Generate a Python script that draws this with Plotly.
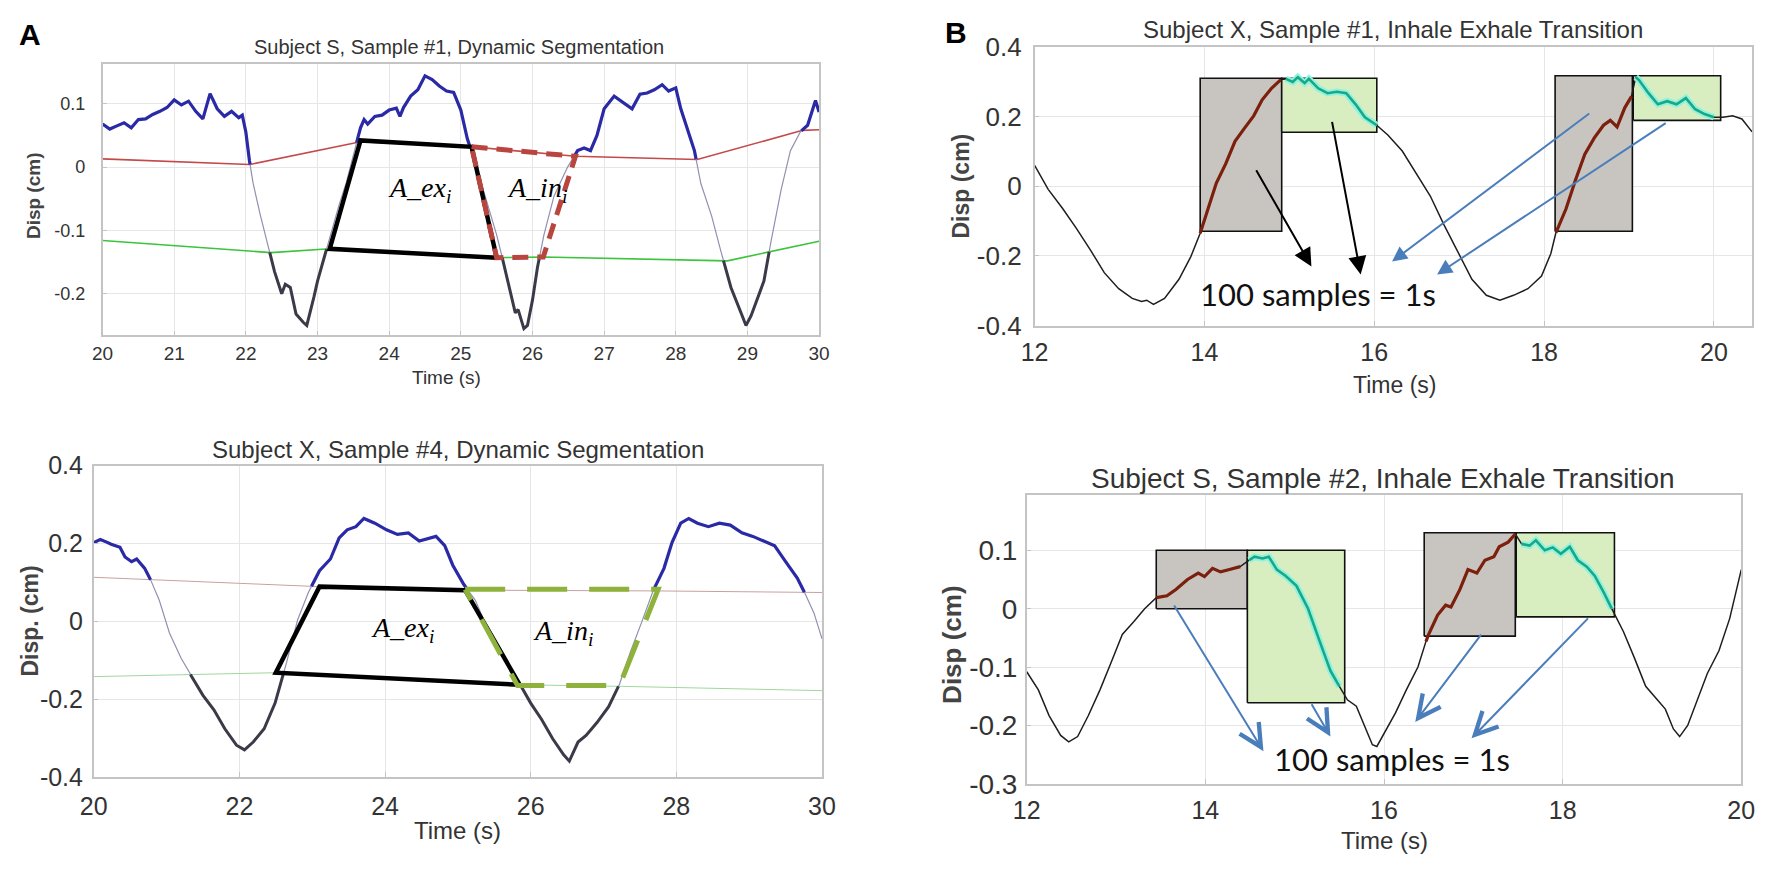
import numpy as np
import plotly.graph_objects as go

# ------------------------------------------------------------------ data
# Panel A (top): Subject S, Sample #1
a1_t = [20.0, 20.1, 20.2, 20.3, 20.4, 20.5, 20.6, 20.7, 20.8, 20.9, 21.0, 21.1, 21.2, 21.3,
        21.4, 21.5, 21.6, 21.7, 21.8, 21.9, 21.95, 22.0, 22.05, 22.1, 22.2, 22.3, 22.4, 22.5,
        22.55, 22.62, 22.7, 22.8, 22.85, 22.95, 23.0, 23.1, 23.2, 23.3, 23.4, 23.5, 23.6, 23.65,
        23.7, 23.8, 23.9, 24.0, 24.1, 24.15, 24.2, 24.3, 24.4, 24.5, 24.6, 24.7, 24.8, 24.9,
        25.0, 25.09, 25.19, 25.35, 25.5, 25.6, 25.7, 25.76, 25.8, 25.88, 25.93, 26.0, 26.07,
        26.16, 26.3, 26.49, 26.63, 26.72, 26.81, 26.9, 27.0, 27.14, 27.28, 27.39, 27.5, 27.6,
        27.7, 27.81, 27.9, 28.0, 28.07, 28.16, 28.26, 28.35, 28.5, 28.63, 28.77, 28.91, 28.98,
        29.05, 29.15, 29.23, 29.33, 29.47, 29.6, 29.74, 29.84, 29.95, 30.0]
a1_y = [0.068, 0.060, 0.065, 0.070, 0.062, 0.075, 0.076, 0.083, 0.088, 0.094, 0.106, 0.098,
        0.104, 0.088, 0.076, 0.116, 0.092, 0.080, 0.088, 0.078, 0.082, 0.055, 0.010, -0.025,
        -0.075, -0.120, -0.165, -0.200, -0.185, -0.190, -0.232, -0.245, -0.250, -0.205, -0.180,
        -0.140, -0.100, -0.060, -0.025, 0.020, 0.062, 0.075, 0.068, 0.080, 0.082, 0.090, 0.093,
        0.080, 0.094, 0.112, 0.122, 0.144, 0.138, 0.128, 0.120, 0.118, 0.090, 0.045, 0.010,
        -0.050, -0.107, -0.153, -0.200, -0.230, -0.225, -0.255, -0.250, -0.210, -0.158, -0.107,
        -0.046, 0.000, 0.026, 0.030, 0.026, 0.050, 0.092, 0.112, 0.100, 0.092, 0.115, 0.117,
        0.122, 0.130, 0.120, 0.125, 0.092, 0.061, 0.026, -0.026, -0.077, -0.133, -0.190,
        -0.230, -0.250, -0.235, -0.204, -0.180, -0.117, -0.036, 0.026, 0.056, 0.066, 0.105,
        0.087]
a1_red_t = [20.0, 22.05, 23.6, 25.15, 26.6, 28.3, 29.77, 30.0]
a1_red_y = [0.013, 0.004, 0.040, 0.032, 0.017, 0.012, 0.058, 0.059]
a1_green_t = [20.0, 22.35, 23.17, 25.5, 26.15, 28.72, 30.0]
a1_green_y = [-0.116, -0.135, -0.129, -0.143, -0.142, -0.148, -0.117]
a1_ex_t = [25.5, 23.17, 23.6, 25.15, 25.5]
a1_ex_y = [-0.143, -0.129, 0.042, 0.032, -0.143]
a1_in_t = [25.15, 26.6, 26.15, 25.5, 25.15]
a1_in_y = [0.032, 0.017, -0.142, -0.143, 0.032]
a1_xticks = [20, 21, 22, 23, 24, 25, 26, 27, 28, 29, 30]
a1_yticks = [-0.2, -0.1, 0, 0.1]
a1_yticklabels = ["-0.2", "-0.1", "0", "0.1"]

# Panel A (bottom): Subject X, Sample #4
a2_t = [20.0, 20.09, 20.17, 20.24, 20.36, 20.43, 20.52, 20.59, 20.7, 20.78, 20.9, 21.04,
        21.2, 21.35, 21.5, 21.65, 21.8, 21.96, 22.07, 22.19, 22.34, 22.49, 22.64, 22.8, 22.95,
        23.1, 23.25, 23.37, 23.48, 23.6, 23.71, 23.86, 24.02, 24.17, 24.32, 24.47, 24.7, 24.82,
        24.93, 25.08, 25.24, 25.39, 25.54, 25.69, 25.85, 26.0, 26.15, 26.3, 26.45, 26.53,
        26.65, 26.76, 26.91, 27.07, 27.22, 27.37, 27.52, 27.68, 27.83, 27.94, 28.06, 28.17,
        28.29, 28.44, 28.59, 28.74, 28.9, 29.05, 29.2, 29.35, 29.5, 29.66, 29.77, 29.89, 30.0]
a2_y = [0.202, 0.210, 0.204, 0.198, 0.190, 0.165, 0.153, 0.160, 0.136, 0.107, 0.054, -0.030,
        -0.095, -0.144, -0.190, -0.227, -0.276, -0.318, -0.330, -0.310, -0.276, -0.210, -0.111,
        0.004, 0.075, 0.130, 0.160, 0.214, 0.235, 0.243, 0.264, 0.252, 0.235, 0.223, 0.227,
        0.206, 0.218, 0.194, 0.144, 0.095, 0.054, -0.012, -0.062, -0.111, -0.161, -0.210,
        -0.252, -0.301, -0.342, -0.359, -0.310, -0.293, -0.260, -0.219, -0.161, -0.078, -0.004,
        0.078, 0.136, 0.202, 0.252, 0.264, 0.252, 0.243, 0.252, 0.247, 0.227, 0.218, 0.206,
        0.194, 0.153, 0.111, 0.070, 0.021, -0.045]
a2_red_t = [20.0, 23.1, 25.1, 27.75, 30.0]
a2_red_y = [0.113, 0.089, 0.080, 0.078, 0.074]
a2_green_t = [20.0, 22.5, 25.85, 27.25, 30.0]
a2_green_y = [-0.142, -0.132, -0.163, -0.167, -0.178]
a2_ex_t = [25.85, 22.5, 23.1, 25.1, 25.85]
a2_ex_y = [-0.163, -0.132, 0.089, 0.080, -0.163]
a2_in_t = [25.1, 27.75, 27.22, 25.82, 25.1]
a2_in_y = [0.082, 0.082, -0.165, -0.165, 0.082]
a2_xticks = [20, 22, 24, 26, 28, 30]
a2_yticks = [-0.4, -0.2, 0, 0.2, 0.4]
a2_yticklabels = ["-0.4", "-0.2", "0", "0.2", "0.4"]

# Panel B (top): Subject X, Sample #1
b1_t = [12.0, 12.16, 12.33, 12.49, 12.66, 12.82, 12.99, 13.15, 13.26, 13.32, 13.4, 13.53,
        13.7, 13.84, 13.95, 14.03, 14.14, 14.25, 14.36, 14.47, 14.58, 14.68, 14.79, 14.9,
        14.96, 15.04, 15.1, 15.18, 15.23, 15.34, 15.45, 15.56, 15.67, 15.78, 15.89, 16.03,
        16.16, 16.33, 16.49, 16.66, 16.82, 16.99, 17.15, 17.32, 17.48, 17.64, 17.81, 17.97,
        18.08, 18.14, 18.26, 18.37, 18.48, 18.59, 18.7, 18.78, 18.86, 18.95, 19.03, 19.08,
        19.12, 19.23, 19.34, 19.45, 19.56, 19.67, 19.78, 19.89, 20.0, 20.11, 20.22, 20.33, 20.45]
b1_y = [0.060, -0.009, -0.064, -0.120, -0.184, -0.248, -0.294, -0.322, -0.331, -0.327, -0.339,
        -0.322, -0.267, -0.202, -0.135, -0.074, 0.009, 0.064, 0.129, 0.166, 0.202, 0.248, 0.281,
        0.306, 0.308, 0.299, 0.313, 0.296, 0.308, 0.281, 0.267, 0.271, 0.267, 0.235, 0.198,
        0.175, 0.147, 0.101, 0.037, -0.028, -0.110, -0.193, -0.267, -0.313, -0.327, -0.313,
        -0.294, -0.258, -0.193, -0.133, -0.064, 0.018, 0.092, 0.138, 0.175, 0.189, 0.170, 0.225,
        0.258, 0.313, 0.304, 0.267, 0.235, 0.244, 0.235, 0.253, 0.221, 0.207, 0.198, 0.198,
        0.202, 0.193, 0.156]
b1_gray_x0 = [13.95, 18.13]
b1_gray_x1 = [14.91, 19.04]
b1_gray_y0 = [-0.129, -0.129]
b1_gray_y1 = [0.310, 0.317]
b1_green_x0 = [14.91, 19.05]
b1_green_x1 = [16.03, 20.08]
b1_green_y0 = [0.155, 0.189]
b1_green_y1 = [0.310, 0.317]
b1_arrow_tail_t = [14.60, 15.50, 18.55, 19.45]
b1_arrow_tail_y = [0.050, 0.189, 0.212, 0.184]
b1_arrow_head_t = [15.26, 15.84, 16.21, 16.74]
b1_arrow_head_y = [-0.230, -0.253, -0.216, -0.253]
b1_arrow_kind = ["black", "black", "blue", "blue"]
b1_note = (15.34, -0.308)
b1_xticks = [12, 14, 16, 18, 20]
b1_yticks = [-0.4, -0.2, 0, 0.2, 0.4]
b1_yticklabels = ["-0.4", "-0.2", "0", "0.2", "0.4"]

# Panel B (bottom): Subject S, Sample #2
b2_t = [12.0, 12.13, 12.25, 12.38, 12.47, 12.57, 12.69, 12.82, 12.94, 13.07, 13.2, 13.32,
        13.45, 13.54, 13.57, 13.67, 13.8, 13.92, 13.99, 14.08, 14.17, 14.27, 14.39, 14.49,
        14.55, 14.64, 14.71, 14.8, 14.9, 15.02, 15.15, 15.28, 15.4, 15.5, 15.59, 15.69, 15.78,
        15.87, 15.92, 16.0, 16.13, 16.25, 16.38, 16.47, 16.5, 16.6, 16.69, 16.75, 16.85, 16.94,
        17.04, 17.13, 17.23, 17.29, 17.39, 17.47, 17.54, 17.63, 17.7, 17.8, 17.89, 17.98, 18.08,
        18.17, 18.27, 18.36, 18.46, 18.55, 18.68, 18.8, 18.93, 19.06, 19.15, 19.24, 19.31, 19.4,
        19.5, 19.62, 19.75, 19.87, 20.0]
b2_y = [-0.108, -0.139, -0.183, -0.217, -0.228, -0.219, -0.183, -0.139, -0.094, -0.044,
        -0.022, 0.000, 0.019, 0.022, 0.022, 0.033, 0.050, 0.061, 0.055, 0.069, 0.063, 0.067,
        0.072, 0.083, 0.089, 0.086, 0.089, 0.067, 0.056, 0.039, 0.000, -0.056, -0.106, -0.133,
        -0.156, -0.167, -0.200, -0.233, -0.236, -0.214, -0.178, -0.139, -0.100, -0.056, -0.044,
        -0.011, 0.006, 0.003, 0.033, 0.067, 0.061, 0.083, 0.089, 0.106, 0.114, 0.128, 0.111,
        0.108, 0.117, 0.100, 0.105, 0.094, 0.106, 0.083, 0.072, 0.056, 0.028, 0.000, -0.039,
        -0.083, -0.133, -0.156, -0.172, -0.206, -0.219, -0.200, -0.161, -0.111, -0.072, -0.017,
        0.067]
b2_gray_x0 = [13.45, 16.45]
b2_gray_x1 = [14.47, 17.47]
b2_gray_y0 = [0.000, -0.047]
b2_gray_y1 = [0.100, 0.130]
b2_green_x0 = [14.47, 17.48]
b2_green_x1 = [15.56, 18.58]
b2_green_y0 = [-0.161, -0.014]
b2_green_y1 = [0.100, 0.130]
b2_arrow_tail_t = [13.64, 15.18, 17.10, 18.30]
b2_arrow_tail_y = [0.008, -0.161, -0.042, -0.014]
b2_arrow_head_t = [14.65, 15.40, 16.35, 16.98]
b2_arrow_head_y = [-0.244, -0.219, -0.194, -0.222]
b2_note = (16.09, -0.258)
b2_xticks = [12, 14, 16, 18, 20]
b2_yticks = [-0.3, -0.2, -0.1, 0, 0.1]
b2_yticklabels = ["-0.3", "-0.2", "-0.1", "0", "0.1"]

# ------------------------------------------------------------------ helpers
W, H = 1772, 878
def PX(x):
    return x / W
def PY(y):
    return 1 - y / H

def thick_runs(t, y, thr_t, thr_y, above):
    t = np.asarray(t, float); y = np.asarray(y, float)
    thr = np.interp(t, thr_t, thr_y)
    d = (y - thr) if above else (thr - y)
    mask = d > 0
    xs, ys = [], []
    n = len(t); i = 0
    while i < n:
        if mask[i]:
            j = i
            while j + 1 < n and mask[j + 1]:
                j += 1
            sx, sy = [], []
            if i > 0:
                f = d[i - 1] / (d[i - 1] - d[i])
                sx.append(t[i - 1] + f * (t[i] - t[i - 1])); sy.append(y[i - 1] + f * (y[i] - y[i - 1]))
            sx += list(t[i:j + 1]); sy += list(y[i:j + 1])
            if j + 1 < n:
                f = d[j] / (d[j] - d[j + 1])
                sx.append(t[j] + f * (t[j + 1] - t[j])); sy.append(y[j] + f * (y[j + 1] - y[j]))
            xs += sx + [None]; ys += sy + [None]
            i = j + 1
        else:
            i += 1
    return xs, ys

def window(t, y, x0s, x1s):
    xs, ys = [], []
    for a, b in zip(x0s, x1s):
        for tt, yy in zip(t, y):
            if a - 1e-9 <= tt <= b + 1e-9:
                xs.append(tt); ys.append(yy)
        xs.append(None); ys.append(None)
    return xs, ys

def boxes(x0s, x1s, y0s, y1s):
    xs, ys = [], []
    for a, b, c, d in zip(x0s, x1s, y0s, y1s):
        xs += [a, b, b, a, a, None]; ys += [c, c, d, d, c, None]
    return xs, ys

fig = go.Figure()
TICKFONT = "Liberation Sans, Arial, sans-serif"

def line(xa, ya, x, y, color, width, dash="solid", **kw):
    fig.add_trace(go.Scatter(x=x, y=y, xaxis=xa, yaxis=ya, mode="lines",
                             line=dict(color=color, width=width, dash=dash),
                             hoverinfo="skip", showlegend=False, **kw))

# ------------------------------------------------------------------ panel A
for (xa, ya, t, y, rt, ry, gt, gy, ext, exy, int_, iny, envw, redc, grnc, dashc, dashp) in [
    ("x", "y", a1_t, a1_y, a1_red_t, a1_red_y, a1_green_t, a1_green_y,
     a1_ex_t, a1_ex_y, a1_in_t, a1_in_y, 1.6, "#c44a4a", "#3cc43c", "#b8463e", "16px,9px"),
    ("x2", "y2", a2_t, a2_y, a2_red_t, a2_red_y, a2_green_t, a2_green_y,
     a2_ex_t, a2_ex_y, a2_in_t, a2_in_y, 1.0, "#c9a0a0", "#9ed89e", "#8fb23c", "40px,22px")]:
    line(xa, ya, rt, ry, redc, envw)
    line(xa, ya, gt, gy, grnc, envw)
    line(xa, ya, t, y, "#9090b0", 1.2)
    bx, by = thick_runs(t, y, rt, ry, True)
    line(xa, ya, bx, by, "#2a2aa6", 3.2)
    kx, ky = thick_runs(t, y, gt, gy, False)
    line(xa, ya, kx, ky, "#3a3a48", 3.0)
    line(xa, ya, ext, exy, "#000000", 4.5)
    line(xa, ya, int_, iny, dashc, 5, dash=dashp)

# ------------------------------------------------------------------ panel B
for (xa, ya, t, y, gx0, gx1, gy0, gy1, nx0, nx1, ny0, ny1) in [
    ("x3", "y3", b1_t, b1_y, b1_gray_x0, b1_gray_x1, b1_gray_y0, b1_gray_y1,
     b1_green_x0, b1_green_x1, b1_green_y0, b1_green_y1),
    ("x4", "y4", b2_t, b2_y, b2_gray_x0, b2_gray_x1, b2_gray_y0, b2_gray_y1,
     b2_green_x0, b2_green_x1, b2_green_y0, b2_green_y1)]:
    sx, sy = boxes(gx0, gx1, gy0, gy1)
    fig.add_trace(go.Scatter(x=sx, y=sy, xaxis=xa, yaxis=ya, mode="lines", fill="toself",
                             fillcolor="#c8c5c0", line=dict(color="#111111", width=1.6),
                             hoverinfo="skip", showlegend=False))
    sx, sy = boxes(nx0, nx1, ny0, ny1)
    fig.add_trace(go.Scatter(x=sx, y=sy, xaxis=xa, yaxis=ya, mode="lines", fill="toself",
                             fillcolor="#d8edc0", line=dict(color="#111111", width=1.6),
                             hoverinfo="skip", showlegend=False))
    line(xa, ya, t, y, "#1e1e1e", 1.5)
    rx, ry_ = window(t, y, gx0, gx1)
    line(xa, ya, rx, ry_, "#7c1f0c", 3.2)
    cx, cy = window(t, y, nx0, nx1)
    line(xa, ya, cx, cy, "#8ff2e2", 6.5)
    line(xa, ya, cx, cy, "#1aa882", 2.6)

# ------------------------------------------------------------------ axes
def axis(domain, rng, tickvals, ticktext=None, size=18, standoff=8, anchor=None):
    d = dict(domain=domain, range=rng, tickmode="array", tickvals=tickvals,
             showgrid=True, gridcolor="#e6e6e6", gridwidth=1, zeroline=False,
             showline=True, linecolor="#c4c4c4", linewidth=1.5, mirror=True,
             ticks="inside", ticklen=5, tickcolor="#c4c4c4",
             tickfont=dict(family=TICKFONT, size=size, color="#333333"),
             ticklabelstandoff=standoff, anchor=anchor, fixedrange=True)
    if ticktext is not None:
        d["ticktext"] = ticktext
    return d

layout = dict(
    width=W, height=H, margin=dict(l=0, r=0, t=0, b=0),
    paper_bgcolor="white", plot_bgcolor="white", showlegend=False,
    xaxis=axis([PX(90), PX(818)], [20, 30], a1_xticks, size=19, standoff=0, anchor="y"),
    yaxis=axis([PY(332), PY(51)], [-0.2655, 0.1624], a1_yticks, a1_yticklabels, size=18, standoff=12, anchor="x"),
    xaxis2=axis([PX(81), PX(821)], [20, 30], a2_xticks, size=25, standoff=6, anchor="y2"),
    yaxis2=axis([PY(790), PY(467)], [-0.4, 0.4], a2_yticks, a2_yticklabels, size=25, standoff=4, anchor="x2"),
    xaxis3=axis([PX(1037), PX(1766)], [12, 20.45], b1_xticks, size=25, standoff=4, anchor="y3"),
    yaxis3=axis([PY(322), PY(33)], [-0.4, 0.4], b1_yticks, b1_yticklabels, size=26, standoff=6, anchor="x3"),
    xaxis4=axis([PX(1029), PX(1755)], [12, 20], b2_xticks, size=25, standoff=3, anchor="y4"),
    yaxis4=axis([PY(797), PY(498)], [-0.3, 0.194], b2_yticks, b2_yticklabels, size=28, standoff=2, anchor="x4"),
)
fig.update_layout(**layout)

ann = []
def txt(x, y, s, size, color="#333333", family=TICKFONT, angle=0, bold=False):
    ann.append(dict(x=PX(x), y=PY(y), xref="paper", yref="paper", text=("<b>%s</b>" % s) if bold else s,
                    showarrow=False, xanchor="center", yanchor="middle", textangle=angle,
                    font=dict(family=family, size=size, color=color)))

# titles & axis labels
txt(452, 33, "Subject S, Sample #1, Dynamic Segmentation", 20)
txt(439, 376, "Time (s)", 19)
txt(20, 187, "Disp (cm)", 19, color="#444444", angle=-90, bold=True)
txt(451, 450, "Subject X, Sample #4, Dynamic Segmentation", 24)
txt(451, 845, "Time (s)", 24)
txt(16, 628, "Disp. (cm)", 23, color="#444444", angle=-90, bold=True)
txt(1401, 15, "Subject X, Sample #1, Inhale Exhale Transition", 24)
txt(1403, 384, "Time (s)", 23)
txt(962, 177, "Disp (cm)", 23, color="#444444", angle=-90, bold=True)
txt(1391, 480, "Subject S, Sample #2, Inhale Exhale Transition", 28)
txt(1392, 856, "Time (s)", 24)
txt(953, 653, "Disp (cm)", 26, color="#444444", angle=-90, bold=True)
txt(16, 20, "A", 30, color="#000000", bold=True)
txt(957, 18, "B", 30, color="#000000", bold=True)

# region labels
SERIF = "Liberation Serif, DejaVu Serif, serif"
for xr, yr, tx, ty, s in [("x", "y", 24.42, -0.036, "<i>A_ex<sub>i</sub></i>"),
                          ("x", "y", 26.07, -0.036, "<i>A_in<sub>i</sub></i>"),
                          ("x2", "y2", 24.24, -0.02, "<i>A_ex<sub>i</sub></i>"),
                          ("x2", "y2", 26.45, -0.03, "<i>A_in<sub>i</sub></i>")]:
    ann.append(dict(x=tx, y=ty, xref=xr, yref=yr, text=s, showarrow=False,
                    font=dict(family=SERIF, size=28, color="#000000")))

# arrows
for ht, hy, tt, ty, kind in zip(b1_arrow_head_t, b1_arrow_head_y, b1_arrow_tail_t, b1_arrow_tail_y, b1_arrow_kind):
    col = "#000000" if kind == "black" else "#4a7ebb"
    ann.append(dict(x=ht, y=hy, ax=tt, ay=ty, xref="x3", yref="y3", axref="x3", ayref="y3",
                    text="", showarrow=True, arrowhead=2, arrowsize=1.8 if kind == "black" else 1.5,
                    arrowwidth=2, arrowcolor=col, standoff=0))
for ht, hy, tt, ty in zip(b2_arrow_head_t, b2_arrow_head_y, b2_arrow_tail_t, b2_arrow_tail_y):
    ann.append(dict(x=ht, y=hy, ax=tt, ay=ty, xref="x4", yref="y4", axref="x4", ayref="y4",
                    text="", showarrow=True, arrowhead=5, arrowsize=2.2,
                    arrowwidth=2, arrowcolor="#4a7ebb", standoff=0))

NOTEFONT = "Lato, Open Sans, sans-serif"
ann.append(dict(x=b1_note[0], y=b1_note[1], xref="x3", yref="y3", text="100 samples = 1s",
                showarrow=False, font=dict(family=NOTEFONT, size=31, color="#111111")))
ann.append(dict(x=b2_note[0], y=b2_note[1], xref="x4", yref="y4", text="100 samples = 1s",
                showarrow=False, font=dict(family=NOTEFONT, size=31, color="#111111")))

fig.update_layout(annotations=ann)
fig.write_html("out.html", config={"displayModeBar": False},
               post_script="document.body.style.margin='0';")
